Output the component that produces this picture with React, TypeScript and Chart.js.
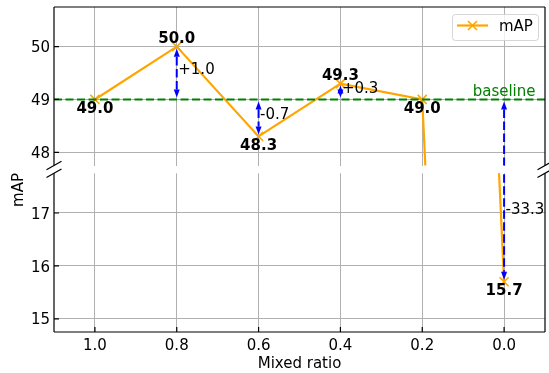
import { useEffect, useRef } from 'react';
import { Chart, registerables } from 'chart.js';

Chart.register(...registerables);

// ---------- data ----------
const ratios = [1.0, 0.8, 0.6, 0.4, 0.2, 0.0];
const mapValues = [49.0, 50.0, 48.3, 49.3, 49.0, 15.7];
const baselineValue = 49.0;
const labelSides = ['below', 'above', 'below', 'above', 'below', 'below'];
const xTicks = [1.0, 0.8, 0.6, 0.4, 0.2, 0.0];
const topYTicks = [48, 49, 50];
const bottomYTicks = [15, 16, 17];
const topRange = [47.75, 50.75];
const bottomRange = [14.75, 17.75];
const xRange = [-0.1, 1.1];
const bigGapLabelY = 17.0;
const seriesLabel = 'mAP';
const xTitle = 'Mixed ratio';
const yTitle = 'mAP';
const baselineText = 'baseline';

// ---------- style / layout ----------
const W = 549;
const H = 373;
const LEFT = 54;
const RIGHT = 545;
const TOP_T = 7;
const TOP_B = 165.5;
const BOT_T = 173.3;
const BOT_B = 332;
const ORANGE = '#FFA500';
const GREEN = '#008000';
const BLUE = '#0000FF';
const GRID = '#b0b0b0';
const FONT = '"DejaVu Sans", sans-serif';
const FS = 15;

function drawCross(ctx: CanvasRenderingContext2D, x: number, y: number, h: number) {
  ctx.beginPath();
  ctx.moveTo(x - h, y - h);
  ctx.lineTo(x + h, y + h);
  ctx.moveTo(x - h, y + h);
  ctx.lineTo(x + h, y - h);
  ctx.stroke();
}

function drawArrow(ctx: CanvasRenderingContext2D, x: number, yA: number, yB: number) {
  const dir = yB > yA ? 1 : -1; // from A to B
  const shrink = 2;
  const hl = 8;
  const hw = 3;
  const tipA = yA + dir * shrink;
  const tipB = yB - dir * shrink;
  const baseA = tipA + dir * hl;
  const baseB = tipB - dir * hl;
  ctx.save();
  ctx.strokeStyle = BLUE;
  ctx.fillStyle = BLUE;
  ctx.lineWidth = 2;
  if ((baseB - baseA) * dir > 0) {
    ctx.setLineDash([8.5, 3.5]);
    ctx.beginPath();
    ctx.moveTo(x, baseA);
    ctx.lineTo(x, baseB);
    ctx.stroke();
    ctx.setLineDash([]);
  }
  ctx.beginPath();
  ctx.moveTo(x, tipA);
  ctx.lineTo(x - hw, baseA);
  ctx.lineTo(x + hw, baseA);
  ctx.closePath();
  ctx.fill();
  ctx.beginPath();
  ctx.moveTo(x, tipB);
  ctx.lineTo(x - hw, baseB);
  ctx.lineTo(x + hw, baseB);
  ctx.closePath();
  ctx.fill();
  ctx.restore();
}

function fmtDelta(d: number) {
  return (d >= 0 ? '+' : '-') + Math.abs(d).toFixed(1);
}

function makePlugin(isTop: boolean) {
  const range = isTop ? topRange : bottomRange;
  const inRange = (v: number) => v >= range[0] && v <= range[1];
  return {
    id: 'custom' + (isTop ? 'Top' : 'Bottom'),
    afterDatasetsDraw(chart: any) {
      const ctx: CanvasRenderingContext2D = chart.ctx;
      const xs = chart.scales.x;
      const ys = chart.scales.y;
      const area = chart.chartArea;
      ctx.save();
      ctx.beginPath();
      ctx.rect(area.left, area.top, area.right - area.left, area.bottom - area.top);
      ctx.clip();
      // baseline
      const by = ys.getPixelForValue(baselineValue);
      ctx.strokeStyle = GREEN;
      ctx.lineWidth = 2;
      ctx.setLineDash([8, 3.5]);
      ctx.beginPath();
      ctx.moveTo(area.left, by);
      ctx.lineTo(area.right, by);
      ctx.stroke();
      ctx.setLineDash([]);
      // arrows
      ratios.forEach((r, i) => {
        const d = mapValues[i] - baselineValue;
        if (i === 0 || Math.abs(d) < 0.05) return;
        drawArrow(ctx, xs.getPixelForValue(r), by, ys.getPixelForValue(mapValues[i]));
      });
      ctx.restore();

      // baseline text
      ctx.save();
      ctx.font = `${FS}px ${FONT}`;
      ctx.fillStyle = GREEN;
      ctx.textBaseline = 'alphabetic';
      if (isTop) {
        ctx.textAlign = 'center';
        ctx.fillText(baselineText, xs.getPixelForValue(0.0), by - 3);
      }
      // delta texts
      ctx.fillStyle = '#000';
      ctx.textAlign = 'left';
      ratios.forEach((r, i) => {
        const d = mapValues[i] - baselineValue;
        if (i === 0 || Math.abs(d) < 0.05) return;
        const mid = (mapValues[i] + baselineValue) / 2;
        const midInTop = mid >= topRange[0] && mid <= topRange[1];
        let yv: number | null = null;
        if (isTop && midInTop) yv = mid;
        if (!isTop && !midInTop) yv = inRange(mid) ? mid : bigGapLabelY;
        if (yv === null) return;
        const off = midInTop ? 1 : 0.7;
        ctx.fillText(fmtDelta(d), xs.getPixelForValue(r) + 1.5, ys.getPixelForValue(yv) + off);
      });
      // value labels
      ctx.font = `bold ${FS}px ${FONT}`;
      ctx.textAlign = 'center';
      ratios.forEach((r, i) => {
        const v = mapValues[i];
        if (!inRange(v)) return;
        const px = xs.getPixelForValue(r);
        const py = ys.getPixelForValue(v);
        const y = labelSides[i] === 'above' ? py - 4 : py + 13.2;
        ctx.fillText(v.toFixed(1), px, y);
      });
      ctx.restore();
    },
    afterDraw(chart: any) {
      const ctx: CanvasRenderingContext2D = chart.ctx;
      const xs = chart.scales.x;
      const ys = chart.scales.y;
      const a = chart.chartArea;
      ctx.save();
      ctx.strokeStyle = '#000';
      ctx.lineWidth = 1.2;
      // spines
      ctx.beginPath();
      ctx.moveTo(a.left, a.top);
      ctx.lineTo(a.left, a.bottom);
      ctx.moveTo(a.right, a.top);
      ctx.lineTo(a.right, a.bottom);
      if (isTop) {
        ctx.moveTo(a.left, a.top);
        ctx.lineTo(a.right, a.top);
      } else {
        ctx.moveTo(a.left, a.bottom);
        ctx.lineTo(a.right, a.bottom);
      }
      ctx.stroke();
      // inward ticks
      const yt = isTop ? topYTicks : bottomYTicks;
      ctx.beginPath();
      yt.forEach((v) => {
        const y = ys.getPixelForValue(v);
        ctx.moveTo(a.left, y);
        ctx.lineTo(a.left + 5, y);
      });
      if (!isTop) {
        xTicks.forEach((v) => {
          const x = xs.getPixelForValue(v);
          ctx.moveTo(x, a.bottom);
          ctx.lineTo(x, a.bottom - 5);
        });
      }
      ctx.stroke();
      // break marks
      const by = isTop ? a.bottom : a.top;
      ctx.beginPath();
      [a.left, a.right].forEach((x) => {
        ctx.moveTo(x - 7.5, by + 4.2);
        ctx.lineTo(x + 7.5, by - 4.2);
      });
      ctx.stroke();
      // tick labels
      ctx.fillStyle = '#000';
      ctx.font = `${FS}px ${FONT}`;
      ctx.textAlign = 'right';
      ctx.textBaseline = 'alphabetic';
      yt.forEach((v) => {
        ctx.fillText(String(v), a.left - 4, ys.getPixelForValue(v) + 5.7);
      });
      if (!isTop) {
        ctx.textAlign = 'center';
        xTicks.forEach((v) => {
          ctx.fillText(v.toFixed(1), xs.getPixelForValue(v), 350);
        });
        ctx.fillText(xTitle, (a.left + a.right) / 2, 368.3);
        ctx.save();
        ctx.translate(17.2, 190);
        ctx.rotate(-Math.PI / 2);
        ctx.fillText(yTitle, 0, 5.5);
        ctx.restore();
      } else {
        // legend
        const lx = 452, ly = 14, lw = 86, lh = 26;
        ctx.save();
        ctx.globalAlpha = 0.8;
        ctx.fillStyle = '#fff';
        ctx.strokeStyle = '#cccccc';
        ctx.lineWidth = 1;
        ctx.beginPath();
        ctx.roundRect(lx + 0.5, ly + 0.5, lw, lh, 3);
        ctx.fill();
        ctx.stroke();
        ctx.restore();
        ctx.strokeStyle = ORANGE;
        ctx.lineWidth = 2.2;
        ctx.beginPath();
        ctx.moveTo(457, 25.5);
        ctx.lineTo(488, 25.5);
        ctx.stroke();
        ctx.lineWidth = 1.6;
        drawCross(ctx, 472.5, 25.5, 4.5);
        ctx.fillStyle = '#000';
        ctx.textAlign = 'left';
        ctx.fillText(chart.data.datasets[0].label, 499, 31);
      }
      ctx.restore();
    },
  };
}

function makeConfig(isTop: boolean): any {
  const yr = isTop ? topRange : bottomRange;
  const yt = isTop ? topYTicks : bottomYTicks;
  return {
    type: 'line',
    data: {
      datasets: [
        {
          label: seriesLabel,
          data: ratios.map((x, i) => ({ x, y: mapValues[i] })),
          borderColor: ORANGE,
          backgroundColor: ORANGE,
          borderWidth: 2.2,
          pointStyle: 'crossRot',
          pointRadius: 6.4,
          pointBorderWidth: 1.6,
          pointBorderColor: ORANGE,
          pointBackgroundColor: ORANGE,
          tension: 0,
          clip: 0,
          fill: false,
        },
      ],
    },
    options: {
      responsive: false,
      animation: false,
      devicePixelRatio: 1,
      events: [],
      layout: {
        autoPadding: false,
        padding: {
          left: 0,
          right: W - RIGHT,
          top: isTop ? TOP_T : BOT_T,
          bottom: isTop ? H - TOP_B : 0,
        },
      },
      plugins: {
        legend: { display: false },
        tooltip: { enabled: false },
        title: { display: false },
      },
      scales: {
        x: {
          type: 'linear',
          min: xRange[0],
          max: xRange[1],
          reverse: true,
          afterBuildTicks: (s: any) => {
            s.ticks = xTicks.map((v) => ({ value: v }));
          },
          afterFit: (s: any) => {
            s.height = isTop ? 0 : H - BOT_B;
          },
          ticks: { display: false },
          grid: { color: GRID, lineWidth: 1, drawTicks: false },
          border: { display: false },
        },
        y: {
          type: 'linear',
          min: yr[0],
          max: yr[1],
          afterBuildTicks: (s: any) => {
            s.ticks = yt.map((v) => ({ value: v }));
          },
          afterFit: (s: any) => {
            s.width = LEFT;
          },
          ticks: { display: false },
          grid: { color: GRID, lineWidth: 1, drawTicks: false },
          border: { display: false },
        },
      },
    },
    plugins: [makePlugin(isTop)],
  };
}

export default function App() {
  const topRef = useRef<HTMLCanvasElement>(null);
  const botRef = useRef<HTMLCanvasElement>(null);
  useEffect(() => {
    const c1 = new Chart(botRef.current as HTMLCanvasElement, makeConfig(false));
    const c2 = new Chart(topRef.current as HTMLCanvasElement, makeConfig(true));
    return () => {
      c1.destroy();
      c2.destroy();
    };
  }, []);
  const cs: any = { position: 'absolute', left: 0, top: 0, width: W, height: H };
  return (
    <div style={{ position: 'fixed', left: 0, top: 0, width: W, height: H, background: '#fff' }}>
      <canvas ref={botRef} width={W} height={H} style={cs} />
      <canvas ref={topRef} width={W} height={H} style={cs} />
    </div>
  );
}
